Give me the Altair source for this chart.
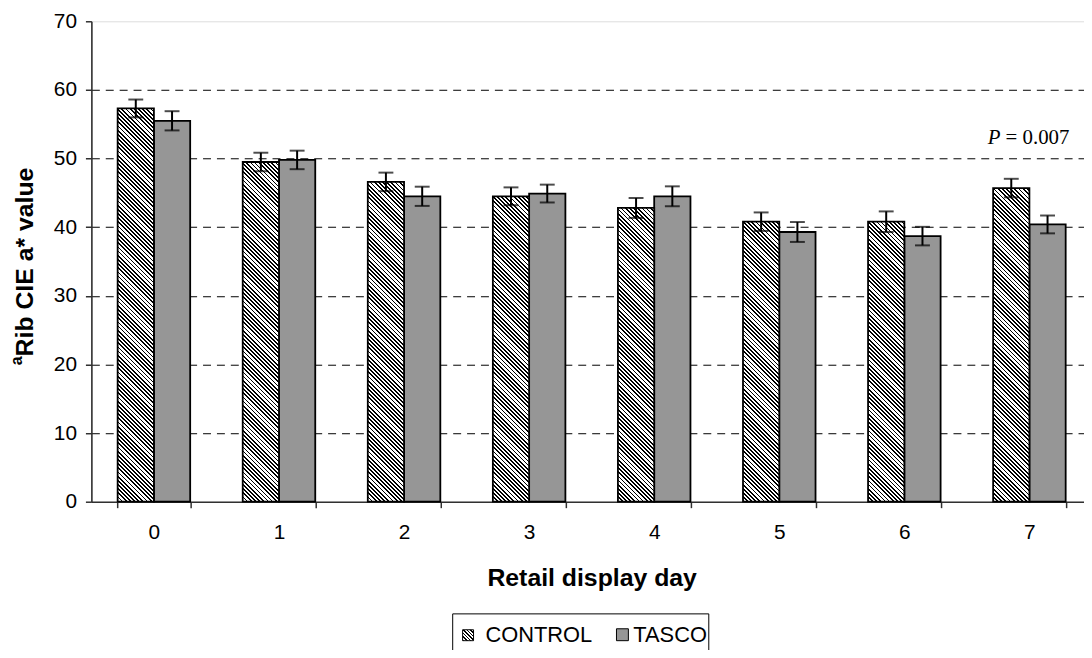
import altair as alt
import pandas as pd

days = ["0", "1", "2", "3", "4", "5", "6", "7"]
series = ["CONTROL", "TASCO"]
control_mean = [57.3, 49.5, 46.6, 44.5, 42.8, 40.8, 40.8, 45.7]
control_se = [1.3, 1.35, 1.35, 1.3, 1.45, 1.35, 1.5, 1.35]
tasco_mean = [55.5, 49.8, 44.5, 44.9, 44.5, 39.3, 38.7, 40.4]
tasco_se = [1.4, 1.35, 1.4, 1.3, 1.45, 1.45, 1.35, 1.3]
y_ticks = [0, 10, 20, 30, 40, 50, 60, 70]

rows = []
for i, d in enumerate(days):
    rows.append({"day": d, "series": "CONTROL", "value": control_mean[i],
                 "lo": control_mean[i] - control_se[i], "hi": control_mean[i] + control_se[i]})
    rows.append({"day": d, "series": "TASCO", "value": tasco_mean[i],
                 "lo": tasco_mean[i] - tasco_se[i], "hi": tasco_mean[i] + tasco_se[i]})
df = pd.DataFrame(rows)

W, H = 1008, 484
YMAX = 70
SANS = "Liberation Sans"
SERIF = "Liberation Serif"
BAR_W = W / len(days) * (1 - 0.42) / 2


def hatch(h, w, period=4.2, frac=0.42):
    L = w + h
    D = h * h + w * w
    stops = []
    i = 0
    while i * period / L < 1:
        a = i * period / L
        b = min((i + frac) * period / L, 1)
        c = min((i + 1) * period / L, 1)
        stops += [
            {"offset": a, "color": "black"},
            {"offset": b, "color": "black"},
            {"offset": b, "color": "white"},
            {"offset": c, "color": "white"},
        ]
        i += 1
    return alt.LinearGradient(gradient="linear", x1=0, y1=1,
                              x2=L * w / D, y2=1 - L * h / D, stops=stops)


x_enc = alt.X("day:N", sort=days,
              scale=alt.Scale(paddingInner=0.42, paddingOuter=0.21),
              axis=alt.Axis(title="Retail display day", labelAngle=0, tickBand="extent",
                            tickSize=6, tickWidth=1.5, tickColor="#303030",
                            domainColor="#303030", domainWidth=1.6,
                            labelFont=SANS, labelFontSize=21, labelColor="black",
                            labelPadding=14,
                            titleFont=SANS, titleFontSize=25, titleFontWeight="bold",
                            titleColor="black", titleBaseline="alphabetic",
                            titleX=W / 2, titleY=84, titleAlign="center"))
xoff = alt.XOffset("series:N", scale=alt.Scale(domain=series, paddingInner=0, paddingOuter=0))
y_scale = alt.Scale(domain=[0, YMAX], nice=False, zero=True)
y_enc = alt.Y("value:Q", scale=y_scale,
              axis=alt.Axis(values=y_ticks, title="Rib CIE a* value",
                            tickSize=6, tickWidth=1.5, tickColor="#303030",
                            domainColor="#303030", domainWidth=1.6,
                            labelFont=SANS, labelFontSize=21, labelColor="black",
                            labelPadding=9,
                            grid=True, gridColor="black", gridDash=[8, 6], gridWidth=1,
                            gridOpacity={"condition": {"test": "datum.value === 0 || datum.value === 70",
                                                       "value": 0}, "value": 1},
                            titleFont=SANS, titleFontSize=25, titleFontWeight="bold",
                            titleColor="black", titleAngle=270, titleAlign="center",
                            titleBaseline="alphabetic", titleX=-59, titleY=H / 2))

base = alt.Chart(df)

layers = []
# TASCO bars (solid gray)
layers.append(base.transform_filter(alt.datum.series == "TASCO").mark_bar(
    fill="#969696", stroke="black", strokeWidth=1.8).encode(x=x_enc, xOffset=xoff, y=y_enc))
# CONTROL bars (hatched), one layer per day so each gets a 45-degree hatch
for i, d in enumerate(days):
    h = control_mean[i] * H / YMAX
    layers.append(base.transform_filter(
        (alt.datum.series == "CONTROL") & (alt.datum.day == d)).mark_bar(
        fill=hatch(h, BAR_W), stroke="black", strokeWidth=1.8).encode(
        x=x_enc, xOffset=xoff, y=y_enc))

# error bars
layers.append(base.mark_rule(color="black", strokeWidth=2).encode(
    x=x_enc, xOffset=xoff, y=alt.Y("lo:Q", scale=y_scale), y2="hi:Q"))
layers.append(base.mark_tick(color="black", thickness=2, size=15).encode(
    x=x_enc, xOffset=xoff, y=alt.Y("lo:Q", scale=y_scale)))
layers.append(base.mark_tick(color="black", thickness=2, size=15).encode(
    x=x_enc, xOffset=xoff, y=alt.Y("hi:Q", scale=y_scale)))

one = pd.DataFrame({"k": [0]})
# superscript "a" of the y title
layers.append(alt.Chart(one).mark_text(text="a", font=SANS, fontSize=16, fontWeight="bold",
                                       angle=270, align="center", baseline="alphabetic",
                                       color="black").encode(x=alt.value(-70), y=alt.value(342)))
# P annotation
layers.append(alt.Chart(one).mark_text(text="P", font=SERIF, fontSize=21, fontStyle="italic",
                                       align="left", baseline="alphabetic",
                                       color="black").encode(x=alt.value(903), y=alt.value(124)))
layers.append(alt.Chart(one).mark_text(text="= 0.007", font=SERIF, fontSize=21,
                                       align="left", baseline="alphabetic",
                                       color="black").encode(x=alt.value(921), y=alt.value(124)))

# legend
layers.append(alt.Chart(one).mark_rect(fill="white", stroke="black", strokeWidth=1).encode(
    x=alt.value(364), x2=alt.value(622), y=alt.value(597), y2=alt.value(700)))
layers.append(alt.Chart(one).mark_rect(fill=hatch(11, 11, period=3.6), stroke="black",
                                       strokeWidth=1).encode(
    x=alt.value(374), x2=alt.value(385), y=alt.value(613), y2=alt.value(624)))
layers.append(alt.Chart(one).mark_text(text="CONTROL", font=SANS, fontSize=22,
                                       align="left", baseline="alphabetic",
                                       color="black").encode(x=alt.value(397), y=alt.value(625)))
layers.append(alt.Chart(one).mark_rect(fill="#969696", stroke="black",
                                       strokeWidth=1).encode(
    x=alt.value(529), x2=alt.value(541), y=alt.value(612), y2=alt.value(624)))
layers.append(alt.Chart(one).mark_text(text="TASCO", font=SANS, fontSize=22,
                                       align="left", baseline="alphabetic",
                                       color="black").encode(x=alt.value(546), y=alt.value(625)))

chart = alt.layer(*layers).properties(
    width=W, height=H,
    autosize=alt.AutoSizeParams(type="none"),
    padding={"left": 84, "top": 11, "right": -8, "bottom": 147},
).configure_view(stroke="#a0a0a0", strokeWidth=1.5).configure(background="white")

chart.save("out.html", embed_options={"renderer": "svg", "actions": False})
